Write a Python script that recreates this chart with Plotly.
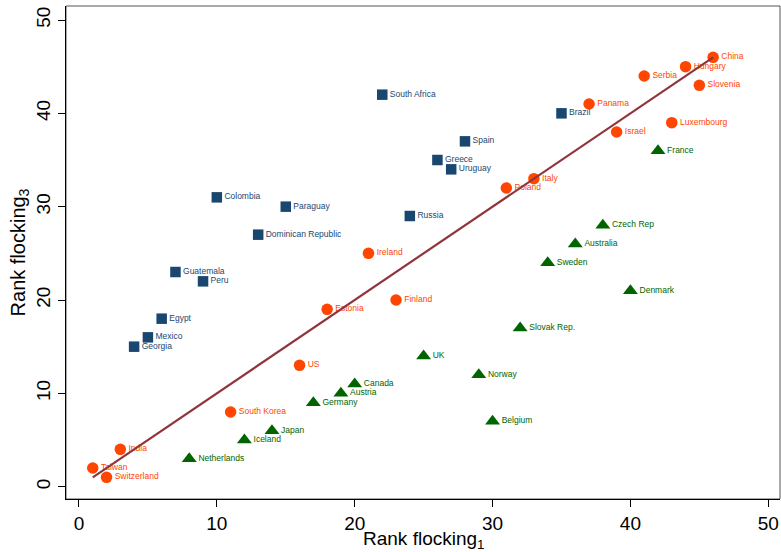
import plotly.graph_objects as go

# Rank in flocking measure 1 (x) vs measure 3 (y), three country groups
orange_names = ["China", "Hungary", "Serbia", "Slovenia", "Panama", "Luxembourg", "Israel",
                "Italy", "Poland", "Ireland", "Finland", "Estonia", "US", "South Korea",
                "India", "Taiwan", "Switzerland"]
orange_x = [46, 44, 41, 45, 37, 43, 39, 33, 31, 21, 23, 18, 16, 11, 3, 1, 2]
orange_y = [46, 45, 44, 43, 41, 39, 38, 33, 32, 25, 20, 19, 13, 8, 4, 2, 1]

navy_names = ["South Africa", "Brazil", "Spain", "Greece", "Uruguay", "Colombia", "Paraguay",
              "Russia", "Dominican Republic", "Guatemala", "Peru", "Egypt", "Mexico", "Georgia"]
navy_x = [22, 35, 28, 26, 27, 10, 15, 24, 13, 7, 9, 6, 5, 4]
navy_y = [42, 40, 37, 35, 34, 31, 30, 29, 27, 23, 22, 18, 16, 15]

green_names = ["France", "Czech Rep", "Australia", "Sweden", "Denmark", "Slovak Rep.", "UK",
               "Norway", "Belgium", "Canada", "Austria", "Germany", "Japan", "Iceland",
               "Netherlands"]
green_x = [42, 38, 36, 34, 40, 32, 25, 29, 30, 20, 19, 17, 14, 12, 8]
green_y = [36, 28, 26, 24, 21, 17, 14, 12, 7, 11, 10, 9, 6, 5, 3]

x_ticks = [0, 10, 20, 30, 40, 50]
y_ticks = [0, 10, 20, 30, 40, 50]

ORANGE = "#FF4500"
NAVY = "#1A476F"
GREEN = "#006400"
MAROON = "#90353B"
LABEL_FONT = "Liberation Sans, Arial, sans-serif"

fig = go.Figure()


def add_group(xs, ys, names, color, symbol, size):
    fig.add_trace(go.Scatter(
        x=xs, y=ys, text=names, mode="markers+text",
        textposition="middle right",
        marker=dict(color=color, symbol=symbol, size=size, line=dict(width=0)),
        textfont=dict(color=color, size=8.5, family=LABEL_FONT),
        cliponaxis=False, showlegend=False, hoverinfo="x+y+text",
    ))


add_group(navy_x, navy_y, navy_names, NAVY, "square", 10.5)
add_group(green_x, green_y, green_names, GREEN, "triangle-up", 13)
add_group(orange_x, orange_y, orange_names, ORANGE, "circle", 11.5)

# 45-degree reference line across the range of ranks
all_x = orange_x + navy_x + green_x
lo, hi = min(all_x), max(all_x)
fig.add_trace(go.Scatter(
    x=[lo, hi], y=[lo, hi], mode="lines",
    line=dict(color=MAROON, width=2.2), showlegend=False, hoverinfo="skip",
))

axis_common = dict(
    showgrid=False, zeroline=False, showline=True, linecolor="black", linewidth=1.3,
    ticks="outside", ticklen=7, tickwidth=1.2, tickcolor="black",
    tickfont=dict(family=LABEL_FONT, size=19, color="black"),
    title_font=dict(family=LABEL_FONT, size=20, color="black"),
    automargin=False,
)

fig.update_xaxes(range=[-0.94, 50.85], tickvals=x_ticks, **axis_common)
fig.update_yaxes(range=[-1.32, 51.5], tickvals=y_ticks, tickangle=-90,
                 title=dict(text="Rank flocking<sub>3</sub>", standoff=2), **axis_common)

# x-axis title set just under the tick labels
fig.add_annotation(
    text="Rank flocking<sub>1</sub>", xref="paper", yref="paper", x=0.5, y=0,
    xanchor="center", yanchor="top", yshift=-27, showarrow=False,
    font=dict(family=LABEL_FONT, size=19, color="black"),
)

# thin outline round the plot region
fig.add_shape(type="rect", xref="paper", yref="paper", x0=0, y0=0, x1=1, y1=1,
              line=dict(color="#555555", width=1), layer="below")

fig.update_layout(
    width=781, height=552,
    margin=dict(l=66, r=1, t=6, b=53),
    paper_bgcolor="white", plot_bgcolor="white",
)

fig.write_html("out.html")
